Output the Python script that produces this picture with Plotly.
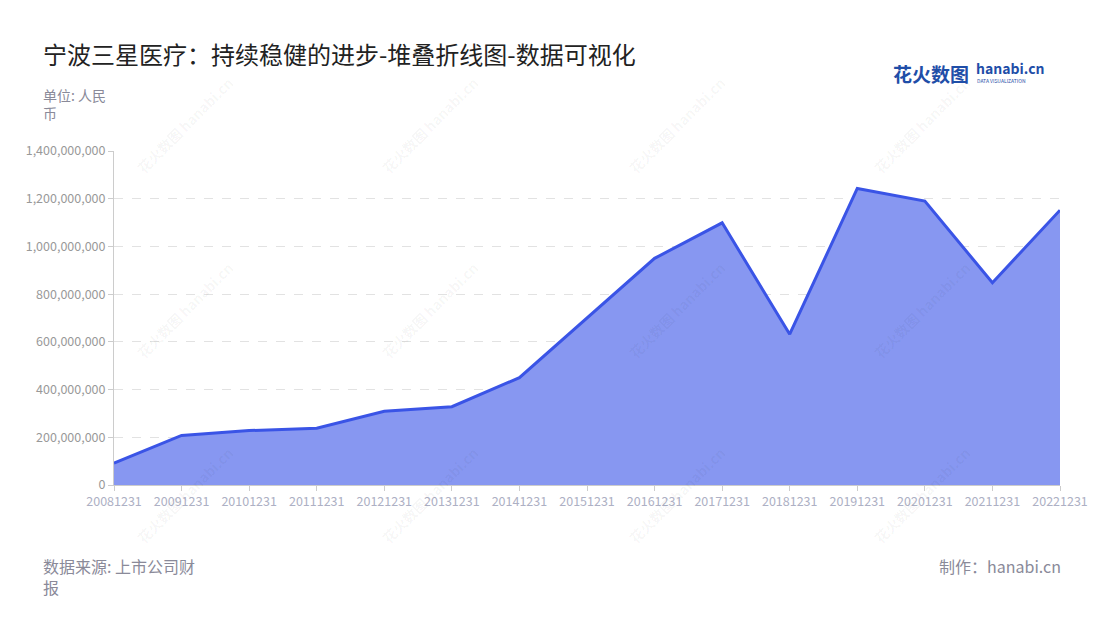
import plotly.graph_objects as go

categories = ["20081231", "20091231", "20101231", "20111231", "20121231",
              "20131231", "20141231", "20151231", "20161231", "20171231",
              "20181231", "20191231", "20201231", "20211231", "20221231"]
values = [92e6, 208e6, 228e6, 238e6, 309e6, 328e6, 450e6, 698e6, 950e6,
          1099e6, 632e6, 1243e6, 1190e6, 848e6, 1152e6]
y_tickvals = [0, 2e8, 4e8, 6e8, 8e8, 1e9, 1.2e9, 1.4e9]
y_ticktext = ["0", "200,000,000", "400,000,000", "600,000,000", "800,000,000",
              "1,000,000,000", "1,200,000,000", "1,400,000,000"]

FONT = "Noto Sans CJK SC, Noto Sans, sans-serif"
OFF = 8  # page body margin in the browser
PL, PR, PT, PB = 114, 1060, 151, 485  # plot area in page pixels

fig = go.Figure()
fig.add_trace(go.Scatter(
    x=categories, y=values, mode="lines",
    line=dict(color="#3a54e6", width=3),
    fill="tozeroy", fillcolor="#8797f1",
    hoverinfo="x+y",
))

annotations = []

def pos(px, py):
    return (px - PL) / (PR - PL), (PB - py) / (PB - PT)

# watermarks
for cx in [185, 430, 677, 922]:
    for cy in [125, 310, 495]:
        x, y = pos(cx, cy)
        annotations.append(dict(
            xref="paper", yref="paper", x=x, y=y,
            text="花火数图 hanabi.cn", showarrow=False, textangle=-45,
            font=dict(family=FONT, size=14, color="rgba(0,0,0,0.045)", weight="bold"),
            xanchor="center", yanchor="middle",
        ))

def pt(px, py, text, size, color, anchor="left", weight="normal", yanchor="middle"):
    x, y = pos(px, py)
    annotations.append(dict(
        xref="paper", yref="paper", x=x, y=y,
        text=text, showarrow=False, xanchor=anchor, yanchor=yanchor,
        align="left" if anchor == "left" else "right",
        xshift=-3 if anchor == "left" else 2,
        font=dict(family=FONT, size=size, color=color, weight=weight),
    ))

pt(44, 53, "宁波三星医疗：持续稳健的进步-堆叠折线图-数据可视化", 24, "#222222")
pt(44, 83, "单位: 人民<br>币", 14, "#8a8a99", yanchor="top")
pt(44, 552, "数据来源: 上市公司财<br>报", 16, "#8a8a99", yanchor="top")
pt(1061, 566, "制作：hanabi.cn", 16, "#8a8a99", anchor="right")
# logo
pt(894, 73, "花火数图", 19, "#1f4ea8", weight="bold")
pt(977, 68, "hanabi.cn", 14, "#1f4ea8", weight="bold")
pt(978, 80, "DATA VISUALIZATION", 5, "#1f4ea8")

W, H = 1100 - OFF, 620 - OFF
fig.update_layout(
    width=W, height=H,
    paper_bgcolor="white", plot_bgcolor="white",
    margin=dict(l=PL - OFF, r=W - (PR - OFF), t=PT - OFF, b=H - (PB - OFF), autoexpand=False),
    showlegend=False,
    font=dict(family=FONT),
    annotations=annotations,
    xaxis=dict(
        type="category", range=[0, len(categories) - 1], automargin=False,
        showgrid=False, showline=True, linecolor="#cccccc", linewidth=1,
        ticks="outside", ticklen=5, tickcolor="#cccccc",
        tickfont=dict(size=12.5, color="#adb0c4"),
        zeroline=False,
    ),
    yaxis=dict(
        range=[0, 1.4e9], tickvals=y_tickvals, ticktext=y_ticktext, automargin=False,
        showgrid=True, gridcolor="#e2e2e2", griddash="dash",
        showline=True, linecolor="#cccccc", linewidth=1,
        ticks="outside", ticklen=5, tickcolor="#cccccc",
        tickfont=dict(size=12.5, color="#999999"),
        zeroline=False,
    ),
)

fig.write_html("out.html")
